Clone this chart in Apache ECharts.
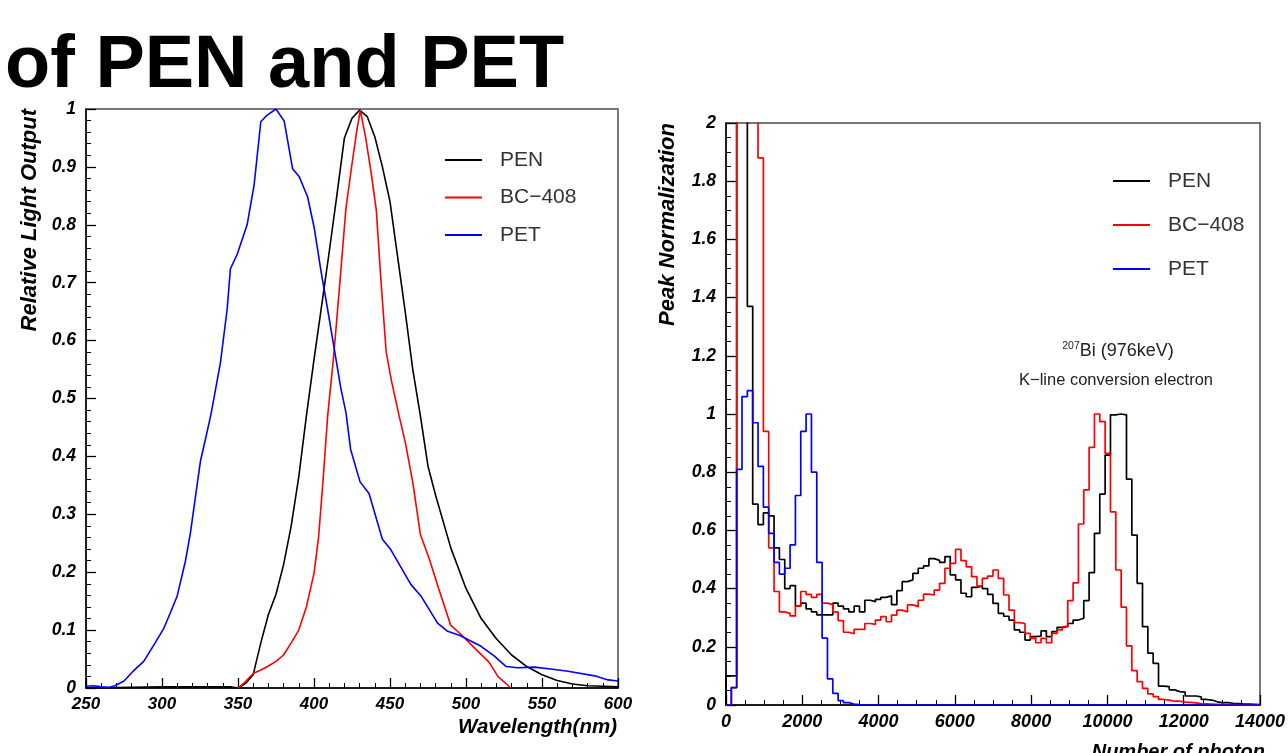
<!DOCTYPE html>
<html><head><meta charset="utf-8">
<script src="https://cdn.jsdelivr.net/npm/echarts@6/dist/echarts.min.js"></script>
<style>html,body{margin:0;padding:0;background:#fff}#c{width:1288px;height:753px}</style>
</head><body><div id="c"></div>
<script>
// ---------- Left panel: emission spectra ----------
const penWl  = [250,300,345,350,355,360,365,370,375,380,385,390,395,400,405,410,415,420,425,430,435,440,445,450,455,460,465,470,475,480,490,500,510,520,530,540,550,560,570,580,590,600];
const penOut = [0.0,0.002,0.002,0.0,0.008,0.023,0.078,0.127,0.162,0.213,0.28,0.365,0.47,0.567,0.66,0.753,0.85,0.95,0.984,0.998,0.987,0.952,0.9,0.84,0.745,0.65,0.55,0.47,0.383,0.333,0.242,0.172,0.12,0.085,0.057,0.037,0.023,0.013,0.007,0.004,0.003,0.002];

const bcWl  = [350,355,360,365,370,375,380,385,390,395,400,403,406,409,413,417,421,425,428,430.5,434,437.5,441,444,447.5,451,456,460,465,470,476,482,490,497,506,515,521,529.5];
const bcOut = [0,0.011,0.025,0.031,0.038,0.046,0.057,0.078,0.1,0.14,0.198,0.26,0.36,0.47,0.575,0.7,0.828,0.905,0.96,0.998,0.95,0.892,0.825,0.705,0.58,0.53,0.47,0.425,0.355,0.265,0.222,0.172,0.108,0.092,0.068,0.045,0.02,0];

const petWl  = [250,255,260,265,269,275,281,288,295.5,301,305.5,310,315.4,318.7,322,325.3,328.6,332,334,338.5,342.9,345,349.6,356,360.6,365,369.4,375,380.4,385.9,390.3,395.8,400.2,404.6,408.9,413.3,417.7,421,424.1,430.3,436.2,445,450.5,463.7,470.3,481.3,487.9,495.6,509.9,518.7,526.4,534.1,545.1,558.3,567.1,584.7,593.5,600];
const petOut = [0.003,0.004,0.002,0.001,0.004,0.012,0.029,0.046,0.078,0.102,0.13,0.159,0.219,0.268,0.33,0.392,0.43,0.47,0.498,0.563,0.655,0.724,0.75,0.8,0.869,0.978,0.99,1.0,0.979,0.897,0.883,0.848,0.794,0.72,0.655,0.586,0.517,0.476,0.412,0.356,0.336,0.257,0.239,0.179,0.159,0.112,0.098,0.091,0.072,0.055,0.037,0.035,0.036,0.032,0.029,0.021,0.014,0.012];

// ---------- Right panel: photon-count histograms (bin width 140) ----------
const binWidth = 140;
const penCounts = [0.1,0.1,3,3,1.37,0.69,0.62,0.66,0.65,0.54,0.50,0.40,0.41,0.34,0.35,0.33,0.32,0.31,0.31,0.31,
 0.35,0.34,0.33,0.32,0.34,0.32,0.36,0.355,0.363,0.37,0.375,0.345,0.393,0.424,0.43,0.452,0.47,0.478,0.503,0.497,
 0.49,0.51,0.447,0.43,0.384,0.372,0.404,0.409,0.40,0.38,0.349,0.315,0.305,0.292,0.258,0.25,0.223,0.235,0.237,0.255,
 0.235,0.252,0.267,0.27,0.28,0.292,0.298,0.359,0.455,0.59,0.725,0.859,0.997,1.0,0.997,0.776,0.584,0.418,0.269,0.178,
 0.143,0.065,0.063,0.052,0.046,0.044,0.031,0.031,0.028,0.019,0.017,0.011,0.008,0.008,0.006,0.005,0.003,0.003,0.002,0.001];
const bcCounts = [0,0.06,3,3,3,3,1.88,0.94,0.54,0.39,0.32,0.315,0.306,0.34,0.39,0.38,0.37,0.38,0.35,0.345,
 0.32,0.29,0.25,0.245,0.26,0.26,0.28,0.277,0.292,0.304,0.286,0.309,0.326,0.32,0.344,0.338,0.36,0.381,0.378,0.395,
 0.418,0.47,0.487,0.535,0.496,0.475,0.441,0.409,0.435,0.443,0.464,0.435,0.378,0.326,0.283,0.28,0.246,0.229,0.214,0.229,
 0.214,0.246,0.258,0.269,0.359,0.42,0.622,0.739,0.885,1.0,0.974,0.865,0.664,0.464,0.336,0.203,0.118,0.08,0.057,0.038,
 0.029,0.019,0.017,0.013,0.013,0.01,0.009,0.007,0.005,0.004,0.003,0.002,0.002,0.001,0.001,0.001,0,0,0,0];
const petCounts = [0,0.06,0.81,1.06,1.08,0.97,0.82,0.68,0.59,0.49,0.45,0.47,0.55,0.72,0.94,1.0,0.80,0.49,0.23,0.09,
 0.04,0.015,0.008,0.003,0.001,0,0,0,0,0,0,0,0,0,0,0,0,0,0,0,
 0,0,0,0,0,0,0,0,0,0,0,0,0,0,0,0,0,0,0,0,
 0,0,0,0,0,0,0,0,0,0,0,0,0,0,0,0,0,0,0,0,
 0,0,0,0,0,0,0,0,0,0,0,0,0,0,0,0,0,0,0,0];

const seriesNames = ['PEN','BC\u2212408','PET'];
const seriesColors = ['#000000','#ff0000','#0000ff'];

function zip(xs, ys){ return xs.map((x,i)=>[x, ys[i]]); }
function histPairs(vals){
  const pts = [[0,0]];
  vals.forEach((v,i)=>pts.push([i*binWidth, v]));
  pts.push([vals.length*binWidth, vals[vals.length-1]]);
  return pts;
}

const FONT = '"Liberation Sans", Arial, Helvetica, sans-serif';
function axisCommon(min, max, interval, split, fs, margin){
  return {
    type:'value', min, max, interval,
    axisLine:{show:true, onZero:false, lineStyle:{color:'#000', width:1.5}},
    axisTick:{show:true, inside:true, length:10, lineStyle:{color:'#000', width:1.3}},
    minorTick:{show:true, splitNumber:split, length:5, lineStyle:{color:'#000', width:1}},
    splitLine:{show:false}, minorSplitLine:{show:false},
    axisLabel:{margin, fontSize:fs, fontWeight:'bold', fontStyle:'italic', fontFamily:FONT, color:'#000',
      formatter: v => String(+v.toFixed(4))}
  };
}

const chart = echarts.init(document.getElementById('c'), null, {renderer:'canvas'});
const legendBase = {
  orient:'vertical', icon:'rect', itemWidth:37, itemHeight:2, selectedMode:false,
  data: seriesNames,
  textStyle:{fontSize:21, lineHeight:22, fontFamily:FONT, color:'#333', padding:[0,0,0,13]}
};

chart.setOption({
  animation:false,
  backgroundColor:'#fff',
  grid:[
    {left:86, top:109, width:532, height:579, show:true, borderColor:'#777', borderWidth:2, backgroundColor:'transparent'},
    {left:726, top:123, width:540, height:582, show:true, borderColor:'#777', borderWidth:2, backgroundColor:'transparent'}
  ],
  xAxis:[
    Object.assign({gridIndex:0}, axisCommon(250, 600, 50, 5, 17, 8)),
    Object.assign({gridIndex:1}, axisCommon(0, 14000, 2000, 4, 18, 8))
  ],
  yAxis:[
    Object.assign({gridIndex:0}, axisCommon(0, 1, 0.1, 5, 17.5, 10)),
    Object.assign({gridIndex:1}, axisCommon(0, 2, 0.2, 4, 17.5, 10))
  ],
  legend:[
    Object.assign({left:440, top:144, itemGap:15.5}, legendBase),
    Object.assign({left:1108, top:165, itemGap:22}, legendBase)
  ],
  series:[
    {name:seriesNames[0], type:'line', xAxisIndex:0, yAxisIndex:0, data:zip(penWl, penOut), symbol:'none', lineStyle:{color:seriesColors[0], width:1.6}, itemStyle:{color:seriesColors[0]}},
    {name:seriesNames[1], type:'line', xAxisIndex:0, yAxisIndex:0, data:zip(bcWl, bcOut), symbol:'none', lineStyle:{color:seriesColors[1], width:1.6}, itemStyle:{color:seriesColors[1]}},
    {name:seriesNames[2], type:'line', xAxisIndex:0, yAxisIndex:0, data:zip(petWl, petOut), symbol:'none', lineStyle:{color:seriesColors[2], width:1.6}, itemStyle:{color:seriesColors[2]}},
    {name:seriesNames[0], type:'line', xAxisIndex:1, yAxisIndex:1, step:'end', data:histPairs(penCounts), symbol:'none', clip:true, lineStyle:{color:seriesColors[0], width:1.7}, itemStyle:{color:seriesColors[0]}},
    {name:seriesNames[1], type:'line', xAxisIndex:1, yAxisIndex:1, step:'end', data:histPairs(bcCounts), symbol:'none', clip:true, lineStyle:{color:seriesColors[1], width:1.7}, itemStyle:{color:seriesColors[1]}},
    {name:seriesNames[2], type:'line', xAxisIndex:1, yAxisIndex:1, step:'end', data:histPairs(petCounts), symbol:'none', clip:true, lineStyle:{color:seriesColors[2], width:1.7}, itemStyle:{color:seriesColors[2]}}
  ],
  graphic:[
    {type:'text', x:5, y:67, z:10, style:{text:'of PEN and PET', font:'bold 74px '+FONT, fill:'#000', textAlign:'left', textVerticalAlign:'middle'}},
    {type:'text', x:30, y:109, rotation:Math.PI/2, style:{text:'Relative Light Output', font:'italic bold 22px '+FONT, fill:'#000', textAlign:'right', textVerticalAlign:'middle'}},
    {type:'text', x:617, y:727, style:{text:'Wavelength(nm)', font:'italic bold 20.5px '+FONT, fill:'#000', textAlign:'right', textVerticalAlign:'middle'}},
    {type:'text', x:668, y:123, rotation:Math.PI/2, style:{text:'Peak Normalization', font:'italic bold 22px '+FONT, fill:'#000', textAlign:'right', textVerticalAlign:'middle'}},
    {type:'text', x:1265, y:752, style:{text:'Number of photon', font:'italic bold 20px '+FONT, fill:'#000', textAlign:'right', textVerticalAlign:'middle'}},
    {type:'text', x:1118, y:351, style:{text:'{s|207}{b|Bi (976keV)}', textAlign:'center', textVerticalAlign:'middle', fill:'#222',
      rich:{s:{fontSize:10.5, fontFamily:FONT, fill:'#222', verticalAlign:'top', lineHeight:20}, b:{fontSize:18, fontFamily:FONT, fill:'#222', lineHeight:20}}}},
    {type:'text', x:1116, y:380, style:{text:'K\u2212line conversion electron', font:'16.5px '+FONT, fill:'#222', textAlign:'center', textVerticalAlign:'middle'}}
  ]
});
</script>
</body></html>
